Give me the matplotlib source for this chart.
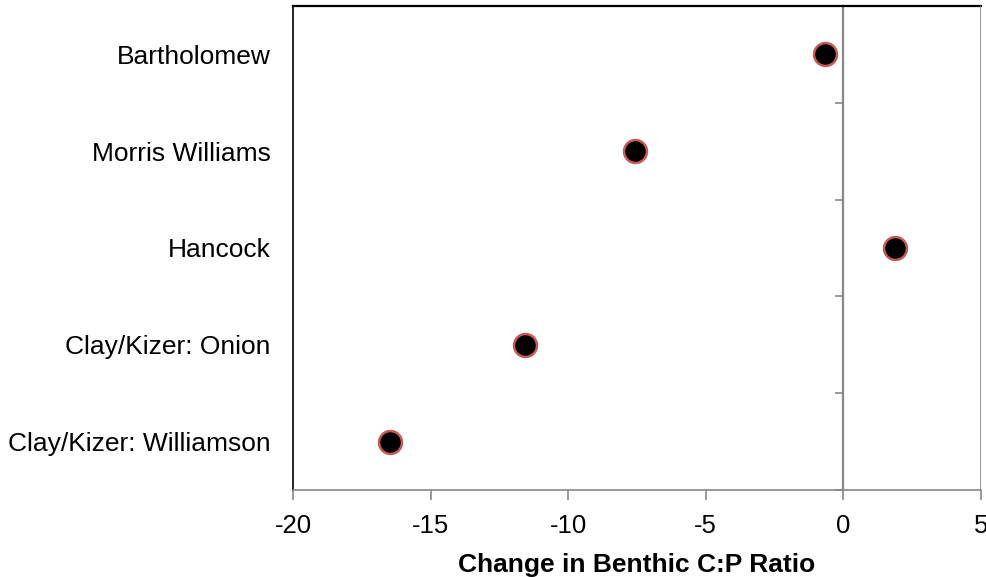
import matplotlib
matplotlib.use("Agg")
import matplotlib.pyplot as plt
from matplotlib.ticker import FixedLocator

plt.rcParams['font.family'] = ['Liberation Sans', 'DejaVu Sans']

# Sites, top to bottom, and the change in benthic C:P ratio at each
sites = ["Bartholomew", "Morris Williams", "Hancock",
         "Clay/Kizer: Onion", "Clay/Kizer: Williamson"]
change_cp = [-0.67, -7.57, 1.87, -11.57, -16.47]

x_ticks = [-20, -15, -10, -5, 0, 5]

fig = plt.figure(figsize=(9.87, 5.77), dpi=100)
ax = fig.add_axes([0.2969, 0.1508, 0.6970, 0.8388])

n = len(sites)
ypos = list(range(n - 1, -1, -1))

# Right spine becomes the vertical zero line (set before configuring ticks)
ax.spines['right'].set_position(('data', 0))
ax.spines['right'].set_color('#888888')
ax.spines['right'].set_linewidth(1.6)

ax.plot(change_cp, ypos, linestyle='none', marker='o', markersize=16.5,
        markerfacecolor='black', markeredgecolor='#c65a57',
        markeredgewidth=1.8, zorder=5, clip_on=False)

ax.set_xlim(x_ticks[0], x_ticks[-1])
ax.set_ylim(-0.5, n - 0.5)

# Category labels on the left, no tick marks
ax.set_yticks(ypos)
ax.set_yticklabels(sites)
ax.tick_params(axis='y', which='major', left=True, right=False,
               labelleft=True, labelright=False,
               length=0, pad=16, labelsize=19)

# Boundary ticks on the zero line
ax.yaxis.set_minor_locator(FixedLocator([i + 0.5 for i in range(-1, n)]))
ax.tick_params(axis='y', which='minor', left=False, right=True,
               direction='in', length=6, width=1.2, color='#888888')

# Outer frame at the right edge of the plot
ax.axvline(x_ticks[-1], color='#888888', linewidth=1.2, zorder=3)

ax.spines['left'].set_color('black')
ax.spines['left'].set_linewidth(1.2)
ax.spines['top'].set_color('black')
ax.spines['top'].set_linewidth(1.6)
ax.spines['bottom'].set_color('#888888')
ax.spines['bottom'].set_linewidth(1.2)

ax.set_xticks(x_ticks)
ax.set_xticklabels([str(v) for v in x_ticks])
ax.tick_params(axis='x', direction='out', length=7, width=1.2,
               color='#888888', pad=10, labelsize=18.5)

ax.set_xlabel("Change in Benthic C:P Ratio", fontsize=19,
              fontweight='bold', labelpad=11)

fig.savefig("out.png", dpi=100)
